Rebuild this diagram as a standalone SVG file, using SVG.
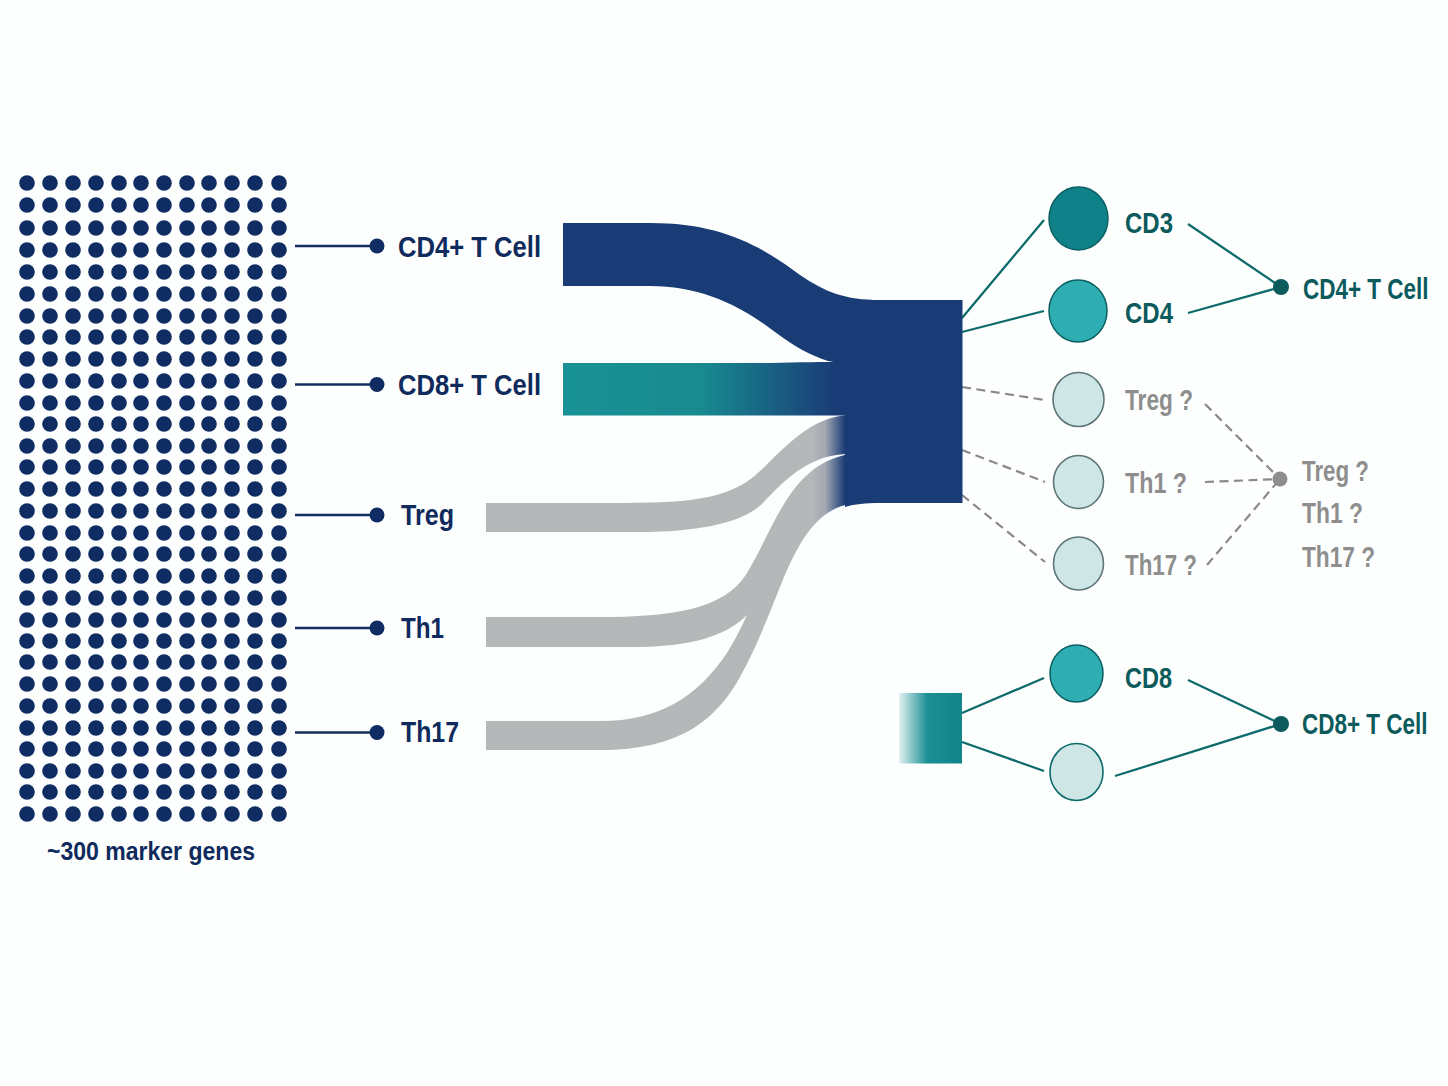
<svg xmlns="http://www.w3.org/2000/svg" width="1448" height="1086" viewBox="0 0 1448 1086">
<style>
text{font-family:"Liberation Sans",Arial,sans-serif;font-weight:700;font-size:29px}
.navy{fill:#0f2a5c}.dteal{fill:#0b5a5c}.gray{fill:#8e8e8e}
.dot{fill:#0f2d63}
.ln{stroke:#12305f;stroke-width:2.6;fill:none}
.tl{stroke:#0e6b6c;stroke-width:2.3;fill:none}
.ds{stroke:#8a8a8a;stroke-width:2.2;stroke-dasharray:9 5.500;fill:none}
.band{fill:url(#gg)}
.pale{fill:#cfe6e7;stroke:#5d7576;stroke-width:1.600}
.mid{fill:#2eaeb2;stroke:#0b5f62;stroke-width:1.500}
</style>
<defs>
<linearGradient id="tg" gradientUnits="userSpaceOnUse" x1="563" y1="0" x2="850" y2="0"><stop offset="0" stop-color="#189296"/><stop offset=".48" stop-color="#188a90"/><stop offset=".95" stop-color="#193c77"/></linearGradient>
<linearGradient id="gg" gradientUnits="userSpaceOnUse" x1="812" y1="0" x2="845" y2="0"><stop offset="0" stop-color="#b5b7b9"/><stop offset=".4" stop-color="#a3a8b2"/><stop offset="1" stop-color="#193c77"/></linearGradient>
<linearGradient id="sq" x1="0" y1="0" x2="1" y2="0"><stop offset="0" stop-color="#1a8f94" stop-opacity=".12"/><stop offset=".45" stop-color="#1a8f94"/><stop offset="1" stop-color="#12848a"/></linearGradient>
<g id="row"><circle cx="27" cy="0" r="7.800"/><circle cx="50" cy="0" r="7.800"/><circle cx="73" cy="0" r="7.800"/><circle cx="96" cy="0" r="7.800"/><circle cx="119" cy="0" r="7.800"/><circle cx="141" cy="0" r="7.800"/><circle cx="164" cy="0" r="7.800"/><circle cx="187" cy="0" r="7.800"/><circle cx="209" cy="0" r="7.800"/><circle cx="232" cy="0" r="7.800"/><circle cx="255" cy="0" r="7.800"/><circle cx="279" cy="0" r="7.800"/></g>
</defs>
<rect width="1448" height="1086" fill="#fdfefe"/>
<g id="marker-dots" class="dot">
<use href="#row" y="183"/><use href="#row" y="205"/><use href="#row" y="228"/><use href="#row" y="250"/><use href="#row" y="272"/><use href="#row" y="294"/><use href="#row" y="316"/><use href="#row" y="337"/><use href="#row" y="359"/><use href="#row" y="381"/><use href="#row" y="403"/><use href="#row" y="424"/><use href="#row" y="446"/><use href="#row" y="467"/><use href="#row" y="489"/><use href="#row" y="511"/><use href="#row" y="533"/><use href="#row" y="554"/><use href="#row" y="576"/><use href="#row" y="598"/><use href="#row" y="620"/><use href="#row" y="641"/><use href="#row" y="662"/><use href="#row" y="684"/><use href="#row" y="706"/><use href="#row" y="728"/><use href="#row" y="749"/><use href="#row" y="771"/><use href="#row" y="792"/><use href="#row" y="814"/>
</g>
<text id="marker-label" class="navy" x="47" y="860" style="font-size:25px" textLength="208" lengthAdjust="spacingAndGlyphs">~300 marker genes</text>

<g id="connectors">
<path class="ln" d="M295 246H377M295 384.500H377M295 515H377M295 628H377M295 732.500H377"/>
<path class="tl" d="M962 318L1044 220M962 332L1044 311M1188 224L1281 287M1188 313L1281 287M962 713L1044 678M962 742L1044 771M1188 680L1281 724M1115 776L1281 724"/>
<path class="ds" d="M962 387L1045 400M962 450L1045 482M962 495L1045 562M1205 404L1280 479M1205 482L1280 479M1207 565L1280 479"/>
</g>

<g id="flows">
<path id="flow-th1-th17" class="band" d="M486 617H600C670 617 725 610 747 573C775 527 790 464 850 454V504C815 510 797 545 780 587C768 617 755 650 740 677C716 720 680 750 600 750H486V721H600C660 721 697 697 727 653C735 640 742 626 747 615C725 637 690 646 640 647H486Z"/>
<path id="flow-treg" class="band" d="M486 503H600C670 503 720 503 752 478C775 460 805 416 850 415V454C812 454 788 476 763 503C745 522 700 532 640 532H486Z"/>
<path id="flow-cd8" fill="url(#tg)" d="M563 363H770C800 362 820 362 850 362V415.500H563Z"/>
<path id="flow-cd4" fill="#193c77" d="M563 223H650C720 223 760 245 800 275C825 292 845 300 880 300H890V365H850L828 361C810 355 795 347 775 332C740 305 700 286 650 286H563Z"/>
</g>

<g id="block"><path fill="#193c77" d="M845 300H962.500V503H880C865 503 855 504 845 507Z"/></g>

<g id="label-cd4"><circle class="dot" cx="377" cy="246" r="7.500"/><text class="navy" x="398" y="257" textLength="143" lengthAdjust="spacingAndGlyphs">CD4+ T Cell</text></g>
<g id="label-cd8"><circle class="dot" cx="377" cy="384.500" r="7.500"/><text class="navy" x="398" y="395" textLength="143" lengthAdjust="spacingAndGlyphs">CD8+ T Cell</text></g>
<g id="label-treg"><circle class="dot" cx="377" cy="515" r="7.500"/><text class="navy" x="401" y="525" textLength="53" lengthAdjust="spacingAndGlyphs">Treg</text></g>
<g id="label-th1"><circle class="dot" cx="377" cy="628" r="7.500"/><text class="navy" x="401" y="638" textLength="43" lengthAdjust="spacingAndGlyphs">Th1</text></g>
<g id="label-th17"><circle class="dot" cx="377" cy="732.500" r="7.500"/><text class="navy" x="401" y="742" textLength="58" lengthAdjust="spacingAndGlyphs">Th17</text></g>

<g id="node-cd3"><ellipse cx="1078.500" cy="218.500" rx="29.500" ry="31.500" fill="#0f8188" stroke="#0b5f62" stroke-width="1.500"/><text class="dteal" x="1125" y="233" textLength="48" lengthAdjust="spacingAndGlyphs">CD3</text></g>
<g id="node-cd4"><ellipse class="mid" cx="1078" cy="311" rx="29" ry="31"/><text class="dteal" x="1125" y="323" textLength="48" lengthAdjust="spacingAndGlyphs">CD4</text></g>
<g id="node-treg"><ellipse class="pale" cx="1078.500" cy="399.500" rx="25.500" ry="27"/><text class="gray" x="1125" y="410" textLength="68" lengthAdjust="spacingAndGlyphs">Treg ?</text></g>
<g id="node-th1"><ellipse class="pale" cx="1078.500" cy="482" rx="25" ry="26.500"/><text class="gray" x="1125" y="493" textLength="62" lengthAdjust="spacingAndGlyphs">Th1 ?</text></g>
<g id="node-th17"><ellipse class="pale" cx="1078.500" cy="563.500" rx="25" ry="26.500"/><text class="gray" x="1125" y="575" textLength="72" lengthAdjust="spacingAndGlyphs">Th17 ?</text></g>
<g id="out-cd4"><circle cx="1281" cy="287" r="8" fill="#0b5a5c"/><text class="dteal" transform="translate(1303 299) scale(.776 1)">CD4+ T Cell</text></g>
<g id="out-unknown"><circle cx="1280" cy="479" r="7.500" fill="#8e8e8e"/><text class="gray" x="1302" y="481" textLength="67" lengthAdjust="spacingAndGlyphs">Treg ?</text><text class="gray" x="1302" y="523" textLength="61" lengthAdjust="spacingAndGlyphs">Th1 ?</text><text class="gray" x="1302" y="567" textLength="73" lengthAdjust="spacingAndGlyphs">Th17 ?</text></g>
<g id="block-cd8"><rect x="899" y="693" width="63" height="70.500" fill="url(#sq)"/></g>
<g id="node-cd8"><ellipse class="mid" cx="1076.500" cy="673.500" rx="26.500" ry="28.500"/><text class="dteal" x="1125" y="688" textLength="47" lengthAdjust="spacingAndGlyphs">CD8</text></g>
<g id="node-blank"><ellipse class="pale" cx="1076.500" cy="772" rx="26.500" ry="28.500" style="stroke:#0e6b6c"/></g>
<g id="out-cd8"><circle cx="1281" cy="724" r="8" fill="#0b5a5c"/><text class="dteal" transform="translate(1302 734) scale(.776 1)">CD8+ T Cell</text></g>
</svg>
